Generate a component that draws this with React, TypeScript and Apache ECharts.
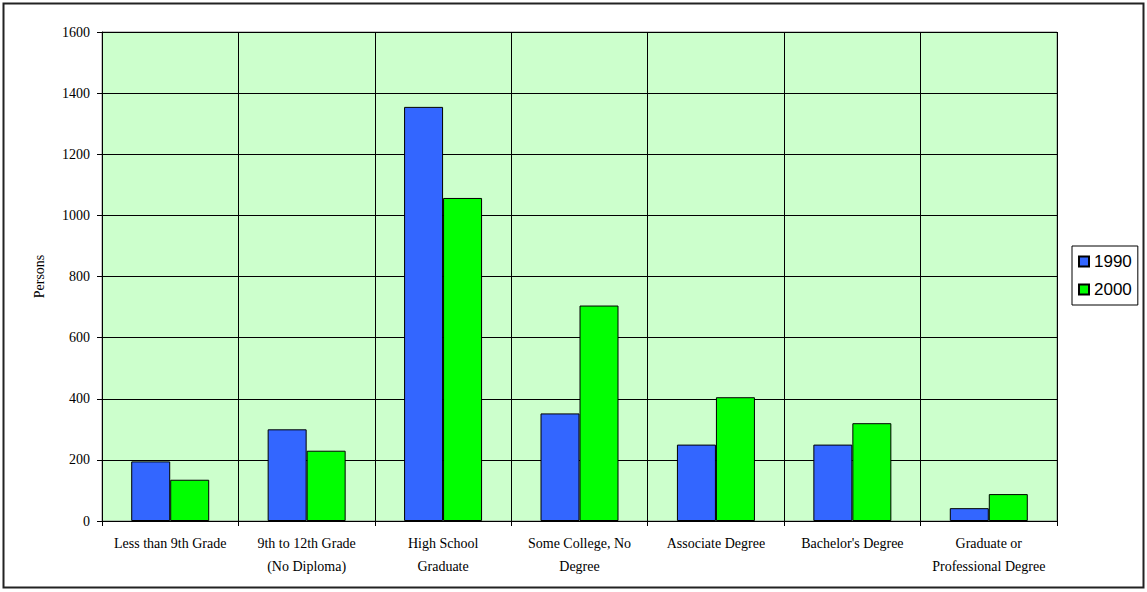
import React, { useEffect, useRef } from "react";
import * as echarts from "echarts";

const categories = [
  "Less than 9th Grade",
  "9th to 12th Grade\n(No Diploma)",
  "High School\nGraduate",
  "Some College, No\nDegree",
  "Associate Degree",
  "Bachelor's Degree",
  "Graduate or\nProfessional Degree",
];
const values1990 = [195, 300, 1355, 352, 250, 250, 42];
const values2000 = [135, 230, 1057, 705, 405, 320, 88];
const yTicks = { min: 0, max: 1600, interval: 200 };

export default function App() {
  const ref = useRef<HTMLDivElement>(null);
  useEffect(() => {
    document.body.style.margin = "0";
    const chart = echarts.init(ref.current!, null, { renderer: "svg" });
    const serif = "'Liberation Serif', 'Times New Roman', serif";
    chart.setOption({
      animation: false,
      backgroundColor: "#fff",
      textStyle: { fontFamily: serif },
      graphic: [
        {
          type: "rect",
          shape: { x: 3.5, y: 3.5, width: 1140, height: 584 },
          style: { fill: "none", stroke: "#222", lineWidth: 2 },
          silent: true,
        },
      ],
      grid: {
        left: 102,
        right: 90,
        top: 32,
        bottom: 71,
        show: true,
        backgroundColor: "#CCFFCC",
        borderColor: "#888",
        borderWidth: 1,
      },
      legend: {
        orient: "vertical",
        left: 1072,
        top: 246,
        padding: [7, 6],
        itemGap: 11,
        itemWidth: 10,
        itemHeight: 10,
        icon: "rect",
        borderColor: "#000",
        borderWidth: 1,
        backgroundColor: "#fff",
        textStyle: {
          fontFamily: "'Liberation Sans', Arial, sans-serif",
          fontSize: 17,
          color: "#000",
        },
        data: ["1990", "2000"],
      },
      xAxis: {
        type: "category",
        data: categories,
        axisLine: { lineStyle: { color: "#000", width: 1 } },
        axisTick: { show: true, length: 5, interval: 0, lineStyle: { color: "#000" } },
        axisLabel: {
          interval: 0,
          color: "#000",
          fontFamily: serif,
          fontSize: 14,
          lineHeight: 23,
          margin: 11,
        },
        splitLine: { show: true, interval: 0, lineStyle: { color: "#000", width: 1 } },
      },
      yAxis: {
        type: "value",
        min: yTicks.min,
        max: yTicks.max,
        interval: yTicks.interval,
        name: "Persons",
        nameLocation: "middle",
        nameGap: 56,
        nameTextStyle: { fontFamily: serif, fontSize: 14, color: "#000" },
        axisLine: { show: true, lineStyle: { color: "#000", width: 1 } },
        axisTick: { show: true, length: 5, lineStyle: { color: "#000" } },
        axisLabel: {
          color: "#000",
          fontFamily: serif,
          fontSize: 14,
          margin: 12,
          formatter: (v: number) => String(v),
        },
        splitLine: { show: true, lineStyle: { color: "#000", width: 1 } },
      },
      series: [
        {
          name: "1990",
          type: "bar",
          data: values1990,
          barWidth: 39,
          barGap: "0%",
          itemStyle: { color: "#3366FF", borderColor: "#000", borderWidth: 1 },
        },
        {
          name: "2000",
          type: "bar",
          data: values2000,
          barWidth: 39,
          barGap: "0%",
          itemStyle: { color: "#00FF00", borderColor: "#000", borderWidth: 1 },
        },
      ],
    });
    return () => chart.dispose();
  }, []);
  return <div ref={ref} style={{ width: 1147, height: 592 }} />;
}
